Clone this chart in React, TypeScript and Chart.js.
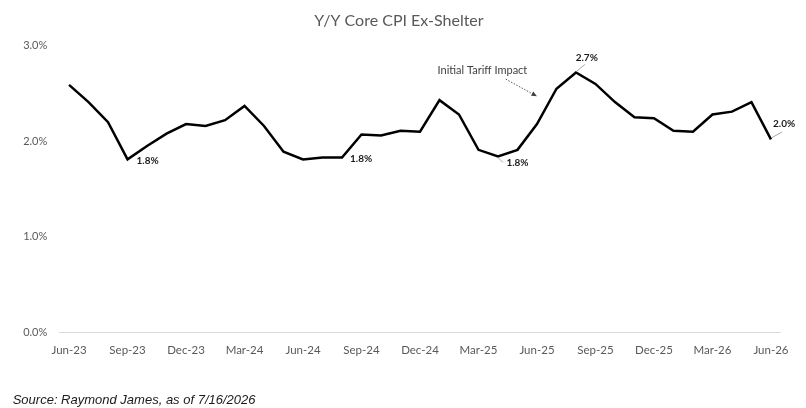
import React, { useEffect, useRef } from "react";
import { Chart, registerables } from "chart.js";

Chart.register(...registerables);

const TITLE = "Y/Y Core CPI Ex-Shelter";
const SOURCE = "Source: Raymond James, as of 7/16/2026";

const months: string[] = [
  "Jun-23", "Jul-23", "Aug-23", "Sep-23", "Oct-23", "Nov-23", "Dec-23",
  "Jan-24", "Feb-24", "Mar-24", "Apr-24", "May-24", "Jun-24", "Jul-24",
  "Aug-24", "Sep-24", "Oct-24", "Nov-24", "Dec-24", "Jan-25", "Feb-25",
  "Mar-25", "Apr-25", "May-25", "Jun-25", "Jul-25", "Aug-25", "Sep-25",
  "Oct-25", "Nov-25", "Dec-25", "Jan-26", "Feb-26", "Mar-26", "Apr-26",
  "May-26", "Jun-26",
];

const coreCpiExShelter: number[] = [
  2.59, 2.41, 2.2, 1.81, 1.95, 2.08, 2.18, 2.16, 2.22, 2.37, 2.16, 1.89,
  1.81, 1.83, 1.83, 2.07, 2.06, 2.11, 2.1, 2.43, 2.28, 1.91, 1.84, 1.91,
  2.18, 2.55, 2.72, 2.6, 2.41, 2.25, 2.24, 2.11, 2.1, 2.28, 2.31, 2.41, 2.02,
];

const yTicks: number[] = [0, 1, 2, 3];

// point labels: index in series, text
const labelIndices: number[] = [3, 14, 22, 26, 36];
const labelTexts: string[] = ["1.8%", "1.8%", "1.8%", "2.7%", "2.0%"];

const tariffText = "Initial Tariff Impact";
const tariffTextPos: [number, number] = [21.2, 2.74];
const tariffArrowFrom: [number, number] = [22.4, 2.65];
const tariffArrowTo: [number, number] = [24.0, 2.47];

const TICK_FONT = "Lato, 'Open Sans', sans-serif";

export default function App() {
  const ref = useRef<HTMLCanvasElement | null>(null);

  useEffect(() => {
    if (!ref.current) return;

    // style offsets per label (pixel layout only)
    const labelStyle = [
      { tx: 9, ty: 1, leader: null as null | number[] },
      { tx: 8, ty: 1, leader: null as null | number[] },
      { tx: 8.4, ty: 6.3, leader: [0, 1, 5, 6] },
      { tx: -0.3, ty: -15, leader: [0.7, -1.3, 9, -8] },
      { tx: 2, ty: -15.7, leader: [1, -1.7, 11, -7.3] },
    ];

    const overlay = {
      id: "overlay",
      afterDatasetsDraw(chart: any) {
        const ctx = chart.ctx as CanvasRenderingContext2D;
        const xs = chart.scales.x;
        const ys = chart.scales.y;
        ctx.save();
        labelIndices.forEach((idx, i) => {
          const px = xs.getPixelForValue(idx);
          const py = ys.getPixelForValue(coreCpiExShelter[idx]);
          const st = labelStyle[i];
          if (st.leader) {
            ctx.strokeStyle = "#a6a6a6";
            ctx.lineWidth = 1;
            ctx.beginPath();
            ctx.moveTo(px + st.leader[0], py + st.leader[1]);
            ctx.lineTo(px + st.leader[2], py + st.leader[3]);
            ctx.stroke();
          }
          ctx.fillStyle = "#1a1a1a";
          ctx.font = `bold 10px ${TICK_FONT}`;
          ctx.textAlign = "left";
          ctx.textBaseline = "middle";
          ctx.fillText(labelTexts[i], px + st.tx, py + st.ty);
        });
        const tx = xs.getPixelForValue(tariffTextPos[0]);
        const ty = ys.getPixelForValue(tariffTextPos[1]);
        ctx.fillStyle = "#404040";
        ctx.font = `11px ${TICK_FONT}`;
        ctx.textAlign = "center";
        ctx.textBaseline = "middle";
        ctx.fillText(tariffText, tx, ty);
        const ax0 = xs.getPixelForValue(tariffArrowFrom[0]);
        const ay0 = ys.getPixelForValue(tariffArrowFrom[1]);
        const ax1 = xs.getPixelForValue(tariffArrowTo[0]);
        const ay1 = ys.getPixelForValue(tariffArrowTo[1]);
        ctx.strokeStyle = "#595959";
        ctx.lineWidth = 1;
        ctx.setLineDash([1.5, 1.5]);
        ctx.beginPath();
        ctx.moveTo(ax0, ay0);
        ctx.lineTo(ax1, ay1);
        ctx.stroke();
        ctx.setLineDash([]);
        const ang = Math.atan2(ay1 - ay0, ax1 - ax0);
        const ah = 6;
        ctx.fillStyle = "#404040";
        ctx.beginPath();
        ctx.moveTo(ax1, ay1);
        ctx.lineTo(ax1 - ah * Math.cos(ang - 0.4), ay1 - ah * Math.sin(ang - 0.4));
        ctx.lineTo(ax1 - ah * Math.cos(ang + 0.4), ay1 - ah * Math.sin(ang + 0.4));
        ctx.closePath();
        ctx.fill();
        ctx.restore();
      },
      afterDraw(chart: any) {
        const ctx = chart.ctx as CanvasRenderingContext2D;
        ctx.save();
        ctx.fillStyle = "#595959";
        ctx.font = `16px ${TICK_FONT}`;
        ctx.textAlign = "center";
        ctx.textBaseline = "middle";
        ctx.fillText(TITLE, 399, 21);
        ctx.fillStyle = "#1a1a1a";
        ctx.font = "italic 13px 'Liberation Sans', Arial, sans-serif";
        ctx.textAlign = "left";
        ctx.fillText(SOURCE, 12.7, 400);
        ctx.restore();
      },
    };

    const chart = new Chart(ref.current, {
      type: "line",
      data: {
        labels: months,
        datasets: [
          {
            data: coreCpiExShelter,
            borderColor: "#000000",
            borderWidth: 2.5,
            pointRadius: 0,
            tension: 0,
            fill: false,
          },
        ],
      },
      options: {
        responsive: false,
        animation: false,
        devicePixelRatio: 1,
        layout: { padding: { top: 45.7, right: 25.3, bottom: 0, left: 0 } },
        plugins: {
          legend: { display: false },
          title: { display: false },
          tooltip: { enabled: false },
        },
        scales: {
          x: {
            type: "category",
            offset: true,
            grid: { display: false, drawTicks: false },
            border: { display: false },
            ticks: {
              autoSkip: false,
              maxRotation: 0,
              minRotation: 0,
              padding: 11,
              color: "#595959",
              font: { family: TICK_FONT, size: 11.5 },
              callback: (_v: any, i: number) => (i % 3 === 0 ? months[i] : ""),
            },
            afterFit: (s: any) => {
              s.height = 408 - 332.3;
            },
          },
          y: {
            min: 0,
            max: 3,
            afterBuildTicks: (s: any) => {
              s.ticks = yTicks.map((v) => ({ value: v }));
            },
            grid: {
              drawTicks: false,
              color: (c: any) => (c.tick && c.tick.value === 0 ? "#d9d9d9" : "rgba(0,0,0,0)"),
              lineWidth: 1,
            },
            border: { display: false },
            ticks: {
              padding: 12,
              color: "#595959",
              font: { family: TICK_FONT, size: 11 },
              callback: (v: any) => `${Number(v).toFixed(1)}%`,
            },
            afterFit: (s: any) => {
              s.width = 59.3;
            },
          },
        },
      },
      plugins: [overlay],
    });
    return () => chart.destroy();
  }, []);

  return (
    <div style={{ position: "absolute", left: 0, top: 0, width: 806, height: 408, background: "#fff" }}>
      <canvas ref={ref} width={806} height={408} style={{ width: 806, height: 408, display: "block" }} />
    </div>
  );
}
